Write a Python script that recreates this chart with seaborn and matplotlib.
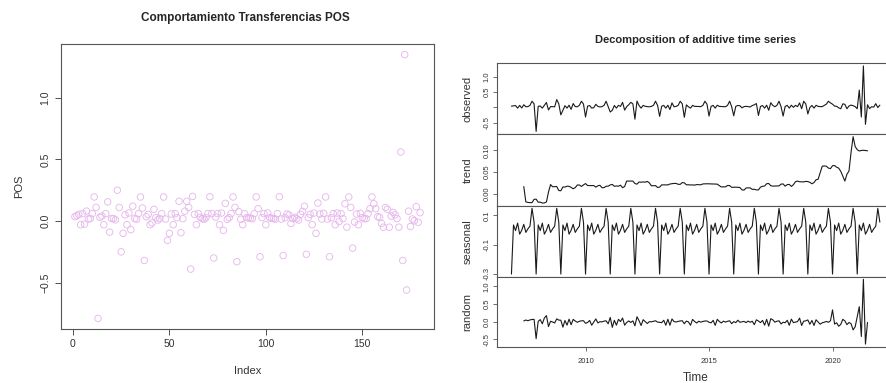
import numpy as np
import pandas as pd
import seaborn as sns
import matplotlib
matplotlib.use("Agg")
import matplotlib.pyplot as plt

# --- Dados: Transferencias POS (mensal, jan/2007 - dez/2021) ---
pos_values = [
    0.035, 0.043, 0.054, -0.03, 0.06, -0.025, 0.08, 0.016, 0.02, 0.06, 0.195, 0.11,
    -0.79, 0.03, 0.04, -0.03, 0.06, 0.155, -0.09, 0.02, 0.02, 0.01, 0.25, 0.11,
    -0.25, -0.1, 0.05, -0.03, 0.065, -0.07, 0.12, 0.02, 0.015, 0.06, 0.195, 0.105,
    -0.32, 0.035, 0.054, -0.03, -0.015, 0.095, 0.027, 0.008, 0.02, 0.06, 0.195, 0.016,
    -0.157, -0.1, 0.057, -0.03, 0.06, 0.027, 0.16, -0.095, 0.019, 0.08, 0.16, 0.11,
    -0.39, 0.2, 0.054, -0.03, 0.06, 0.03, 0.019, 0.014, 0.027, 0.06, 0.197, 0.06,
    -0.3, 0.032, 0.06, -0.03, 0.065, -0.076, 0.143, 0.014, 0.027, 0.06, 0.195, 0.11,
    -0.33, 0.076, 0.014, -0.03, 0.06, 0.027, 0.027, 0.022, 0.019, 0.06, 0.195, 0.1,
    -0.29, 0.027, 0.06, -0.03, 0.065, 0.027, 0.022, 0.019, 0.016, 0.06, 0.197, 0.016,
    -0.28, 0.027, 0.057, 0.049, -0.02, 0.019, 0.03, 0.019, 0.008, 0.054, 0.078, 0.12,
    -0.27, 0.027, 0.054, -0.03, 0.065, -0.1, 0.146, 0.057, 0.016, 0.062, 0.195, 0.016,
    -0.29, 0.027, 0.06, -0.03, 0.065, -0.003, 0.06, 0.019, 0.14, -0.05, 0.195, 0.11,
    -0.22, -0.008, 0.057, -0.03, 0.062, 0.027, 0.019, 0.019, 0.06, 0.1, 0.195, 0.14,
    0.1, 0.035, 0.03, -0.02, -0.05, 0.11, 0.095, -0.05, 0.04, 0.07, 0.05, 0.02,
    -0.05, 0.56, -0.32, 1.35, -0.56, 0.08, -0.045, 0.016, 0.003, 0.116, -0.01, 0.068,
]
start_year = 2007
freq = 12

obs = np.array(pos_values)
n = len(obs)
index = np.arange(1, n + 1)
time = start_year + np.arange(n) / freq

# Decomposicao aditiva classica (igual ao decompose() do R)
w = np.r_[0.5, np.ones(freq - 1), 0.5] / freq
trend = np.full(n, np.nan)
trend[freq // 2:n - freq // 2] = np.convolve(obs, w, mode="valid")
detr = obs - trend
figure = np.array([np.nanmean(detr[k::freq]) for k in range(freq)])
figure = figure - figure.mean()
seasonal = np.tile(figure, n // freq + 1)[:n]
random = obs - trend - seasonal

df = pd.DataFrame({"Index": index, "POS": obs, "time": time,
                   "observed": obs, "trend": trend,
                   "seasonal": seasonal, "random": random})

sns.set_style("ticks")
plt.rcParams["font.family"] = ["Liberation Sans", "DejaVu Sans"]

W, H = 886, 383
fig = plt.figure(figsize=(W / 100, H / 100), dpi=100)

def box(x0, y0, x1, y1):
    return [x0 / W, 1 - y1 / H, (x1 - x0) / W, (y1 - y0) / H]

# --- Painel esquerdo: scatter ---
ax = fig.add_axes(box(61, 44, 434, 329))
sns.scatterplot(data=df, x="Index", y="POS", ax=ax, marker="o",
                color="none", edgecolors="#E6B9EC", linewidth=0.65, s=22)
ax.set_xlim(-6.2, 187.2)
ax.set_ylim(-0.876, 1.436)
ax.set_xticks([0, 50, 100, 150])
ax.set_yticks([-0.5, 0.0, 0.5, 1.0])
ax.tick_params(axis="both", labelsize=7.5, length=4, width=0.6, color="#333333",
               labelcolor="#333333")
plt.setp(ax.get_yticklabels(), rotation=90, va="center")
for sp in ax.spines.values():
    sp.set_visible(True)
    sp.set_color("#555555")
    sp.set_linewidth(0.8)
ax.set_xlabel("Index", fontsize=8, color="#333333", labelpad=12)
ax.set_ylabel("POS", fontsize=8, color="#333333", labelpad=12)
fig.text(245 / W, 1 - 18 / H, "Comportamiento Transferencias POS",
         ha="center", va="center", fontsize=8.5, fontweight="bold")

# --- Painel direito: decomposicao ---
edges = [63.3, 134, 205.7, 276.7, 346.7]
comps = ["observed", "trend", "seasonal", "random"]
yticks = {
    "observed": ([-0.5, 0.0, 0.5, 1.0], ["-0.5", "", "0.5", "1.0"]),
    "trend": ([0.0, 0.05, 0.10], ["0.00", "0.05", "0.10"]),
    "seasonal": ([-0.3, -0.1, 0.1], ["-0.3", "-0.1", "0.1"]),
    "random": ([-0.5, 0.0, 0.5, 1.0], ["-0.5", "0.0", "0.5", "1.0"]),
}
x_lo = start_year - 0.04 * (time[-1] - time[0])
x_hi = time[-1] + 0.04 * (time[-1] - time[0])
for i, comp in enumerate(comps):
    a = fig.add_axes(box(496.7, edges[i], 894.6, edges[i + 1]))
    sns.lineplot(data=df, x="time", y=comp, ax=a, color="#1a1a1a", linewidth=0.8)
    a.set_xlim(x_lo, x_hi)
    vals = df[comp].dropna()
    pad = 0.04 * (vals.max() - vals.min())
    a.set_ylim(vals.min() - pad, vals.max() + pad)
    t, lab = yticks[comp]
    a.set_yticks(t)
    a.set_yticklabels(lab)
    plt.setp(a.get_yticklabels(), rotation=90, va="center")
    a.tick_params(axis="y", labelsize=5.5, length=3, width=0.5, pad=1.5,
                  color="#333333", labelcolor="#333333")
    a.set_ylabel(comp, fontsize=8, color="#333333", labelpad=4)
    a.yaxis.set_label_coords(-24 / (894.6 - 496.7), 0.5)
    for sp in a.spines.values():
        sp.set_visible(True)
        sp.set_color("#555555")
        sp.set_linewidth(0.8)
    if comp == "random":
        a.set_xticks([2010, 2015, 2020])
        a.tick_params(axis="x", labelsize=5.5, length=3, width=0.5, pad=5,
                      color="#333333", labelcolor="#333333")
        a.set_xlabel("Time", fontsize=8.5, color="#333333", labelpad=5)
    else:
        a.set_xticks([])
        a.set_xlabel("")

fig.text(695.5 / W, 1 - 40 / H, "Decomposition of additive time series",
         ha="center", va="center", fontsize=8, fontweight="bold")

fig.savefig("out.png", dpi=100)
